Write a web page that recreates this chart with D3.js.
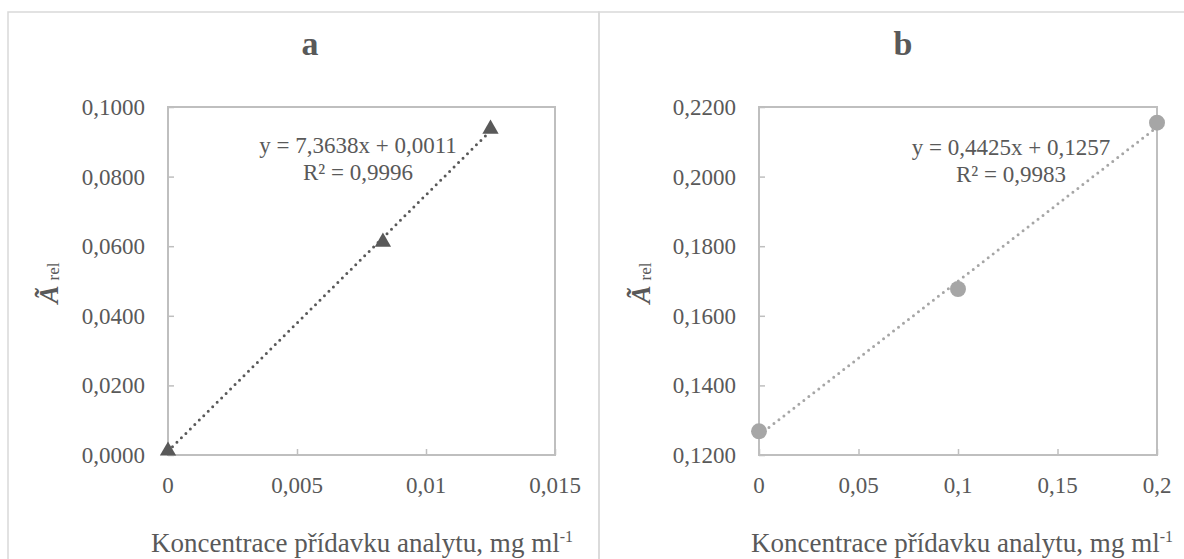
<!DOCTYPE html>
<html>
<head>
<meta charset="utf-8">
<script src="https://cdn.jsdelivr.net/npm/d3@7"></script>
<style>
  body { margin: 0; background: #fff; }
  svg { display: block; font-family: "Liberation Serif", "Times New Roman", serif; }
</style>
</head>
<body>
<svg id="chart" width="1184" height="559"></svg>
<script>
// panel a
const concA = [0, 0.00833, 0.0125];
const absA = [0.0012, 0.0612, 0.0937];
const xTicksA = [0, 0.005, 0.01, 0.015];
const yTicksA = [0, 0.02, 0.04, 0.06, 0.08, 0.1];
const trendA = [7.3638, 0.0011];
const eqA = ['y = 7,3638x + 0,0011', 'R² = 0,9996'];

// panel b
const concB = [0, 0.1, 0.2];
const absB = [0.1268, 0.1677, 0.2155];
const xTicksB = [0, 0.05, 0.1, 0.15, 0.2];
const yTicksB = [0.12, 0.14, 0.16, 0.18, 0.2, 0.22];
const trendB = [0.4425, 0.1257];
const eqB = ['y = 0,4425x + 0,1257', 'R² = 0,9983'];

const xTitle = 'Koncentrace přídavku analytu, mg ml';

const svg = d3.select('#chart');
const textCol = '#595959';

function panel(opt) {
  const g = svg.append('g');

  // chart box
  g.append('rect')
    .attr('x', opt.box[0]).attr('y', 12)
    .attr('width', opt.box[1] - opt.box[0]).attr('height', 600)
    .attr('fill', 'none').attr('stroke', '#d9d9d9').attr('stroke-width', 1.5);

  const x = d3.scaleLinear().domain(d3.extent(opt.xTicks)).range([opt.left, opt.right]);
  const y = d3.scaleLinear().domain(d3.extent(opt.yTicks)).range([455, 107]);

  // plot area border
  g.append('rect')
    .attr('x', opt.left).attr('y', 107)
    .attr('width', opt.right - opt.left).attr('height', 348)
    .attr('fill', 'none').attr('stroke', '#bfbfbf').attr('stroke-width', 2);

  const fmt = d => String(+d.toFixed(4)).replace('.', ',');

  const yAxis = g.append('g')
    .attr('transform', 'translate(' + opt.left + ',0)')
    .call(d3.axisRight(y).tickValues(opt.yTicks).tickSize(6).tickFormat(''));
  yAxis.select('.domain').remove();
  yAxis.selectAll('line').attr('stroke', '#bfbfbf').attr('stroke-width', 1.5);

  const xAxis = g.append('g')
    .attr('transform', 'translate(0,455)')
    .call(d3.axisTop(x).tickValues(opt.xTicks).tickSize(6).tickFormat(''));
  xAxis.select('.domain').remove();
  xAxis.selectAll('line').attr('stroke', '#bfbfbf').attr('stroke-width', 1.5);

  // tick labels
  g.selectAll('.ylab').data(opt.yTicks).enter().append('text')
    .attr('x', opt.left - 23).attr('y', d => y(d) + 8)
    .attr('text-anchor', 'end').attr('font-size', 23).attr('fill', textCol)
    .text(d => d.toFixed(4).replace('.', ','));

  g.selectAll('.xlab').data(opt.xTicks).enter().append('text')
    .attr('x', d => x(d)).attr('y', 493)
    .attr('text-anchor', 'middle').attr('font-size', 23).attr('fill', textCol)
    .text(fmt);

  // title
  g.append('text')
    .attr('x', opt.titleX).attr('y', 55)
    .attr('text-anchor', 'middle').attr('font-size', 34).attr('font-weight', 'bold')
    .attr('fill', textCol).text(opt.title);

  // axis titles
  const xt = g.append('text')
    .attr('x', opt.xTitleX).attr('y', 552)
    .attr('text-anchor', 'middle').attr('font-size', 27).attr('fill', textCol);
  xt.append('tspan').text(xTitle);
  xt.append('tspan').attr('font-size', 16).attr('dy', -10).text('-1');

  const yt = g.append('text')
    .attr('transform', 'translate(' + opt.yTitleX + ',283) rotate(-90)')
    .attr('text-anchor', 'middle').attr('fill', textCol);
  yt.append('tspan').attr('font-size', 27).attr('font-weight', 'bold').attr('font-style', 'italic').text('Ã');
  yt.append('tspan').attr('font-size', 17).attr('dx', 5).attr('dy', 1).text('rel');

  // trendline
  const xs = d3.extent(opt.xs);
  g.append('line')
    .attr('x1', x(xs[0])).attr('y1', y(opt.trend[0] * xs[0] + opt.trend[1]))
    .attr('x2', x(xs[1])).attr('y2', y(opt.trend[0] * xs[1] + opt.trend[1]))
    .attr('stroke', opt.color).attr('stroke-width', 3)
    .attr('stroke-linecap', 'round').attr('stroke-dasharray', '0 6.3');

  // markers
  const pts = opt.xs.map((v, i) => [v, opt.ys[i]]);
  g.selectAll('.pt').data(pts).enter().append('path')
    .attr('transform', d => 'translate(' + x(d[0]) + ',' + y(d[1]) + ')')
    .attr('d', d3.symbol().type(opt.symbol).size(opt.symSize))
    .attr('fill', opt.color);

  // equation
  g.selectAll('.eq').data(opt.eq).enter().append('text')
    .attr('x', opt.eqPos[0]).attr('y', (d, i) => opt.eqPos[1] + i * 27)
    .attr('text-anchor', 'middle').attr('font-size', 23).attr('fill', textCol)
    .text(d => d);
}

panel({
  box: [8, 599], left: 168, right: 555,
  xTicks: xTicksA, yTicks: yTicksA, xs: concA, ys: absA,
  trend: trendA, eq: eqA, eqPos: [358, 153],
  color: '#595959', symbol: d3.symbolTriangle, symSize: 115,
  title: 'a', titleX: 310, xTitleX: 362, yTitleX: 58
});

panel({
  box: [599, 1192], left: 759, right: 1157,
  xTicks: xTicksB, yTicks: yTicksB, xs: concB, ys: absB,
  trend: trendB, eq: eqB, eqPos: [1011, 155],
  color: '#a6a6a6', symbol: d3.symbolCircle, symSize: 200,
  title: 'b', titleX: 903, xTitleX: 962, yTitleX: 650
});
</script>
</body>
</html>
